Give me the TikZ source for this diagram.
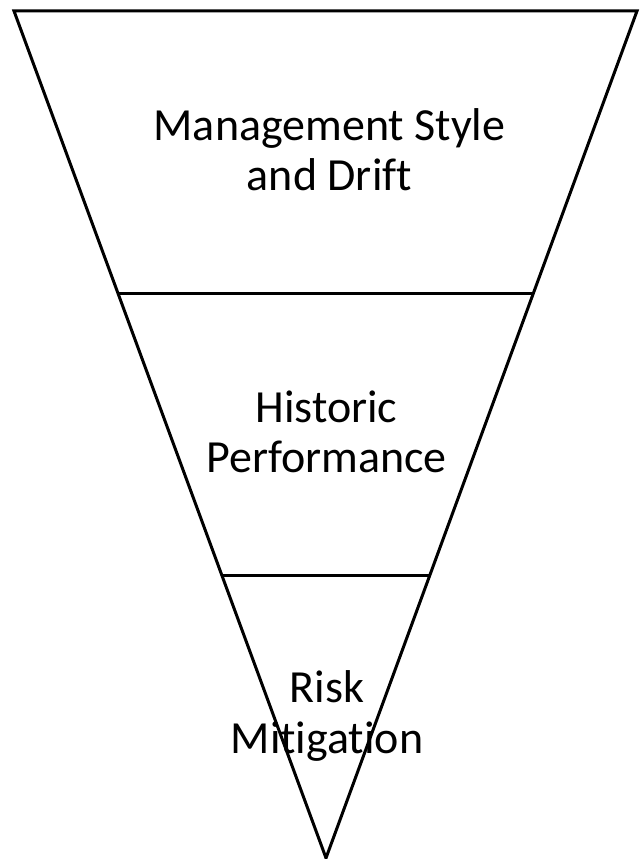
\documentclass[tikz,border=0pt]{standalone}
\usepackage{fontspec}
\setmainfont{Carlito}[Ligatures=CommonOff]
\usetikzlibrary{calc}
\begin{document}
\begin{tikzpicture}[x=0.75pt,y=-0.75pt,
  edge/.style={line width=2.25pt,black},
  label/.style={anchor=base,align=center,inner sep=0pt,
    font=\fontsize{34.5}{37.8}\selectfont}]
  \useasboundingbox (0,0) rectangle (643,859);
  % funnel corners
  \coordinate (TL) at (14,11);
  \coordinate (TR) at (637,11);
  \coordinate (A) at (326,858);
  % divider end points at one and two thirds of the height
  \coordinate (L1) at ($(TL)!1/3!(A)$);
  \coordinate (R1) at ($(TR)!1/3!(A)$);
  \coordinate (L2) at ($(TL)!2/3!(A)$);
  \coordinate (R2) at ($(TR)!2/3!(A)$);
  \draw[edge] (TL) -- (TR) -- (A) -- cycle;
  \draw[edge] (L1) -- (R1);
  \draw[edge] (L2) -- (R2);
  % level labels (anchored at the baseline of the last line)
  \node[label] (mgmt) at (329.5,190.7) {Management Style\\and Drift};
  \node[label] (hist) at (326.5,472.7) {Historic\\Performance};
  \node[label] (risk) at (327,753) {Risk\\Mitigation};
\end{tikzpicture}
\end{document}
